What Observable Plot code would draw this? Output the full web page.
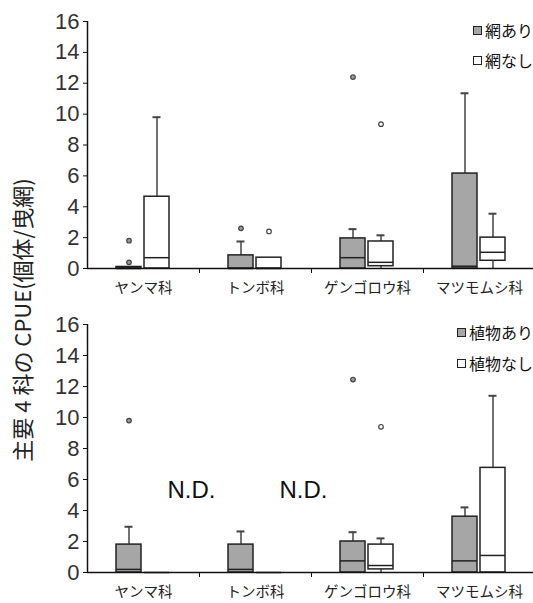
<!DOCTYPE html>
<html>
<head>
<meta charset="utf-8">
<script src="https://cdn.jsdelivr.net/npm/d3@7"></script>
<script src="https://cdn.jsdelivr.net/npm/@observablehq/plot@0.6"></script>
<style>
  body { margin: 0; background: #fff; }
  #wrap { position: relative; width: 533px; height: 603px; overflow: hidden; font-family: "Noto Sans CJK JP", sans-serif; }
  .panel { position: absolute; left: 0; }
  .leg { position: absolute; display: flex; align-items: center; font-size: 16px; line-height: 16px; color: #111; white-space: nowrap; }
  .sw { width: 9px; height: 9px; border: 1px solid #222; margin-right: 3px; box-sizing: border-box; }
  #ylab { position: absolute; left: 21px; top: 320px; transform: translate(-50%, -50%) rotate(-90deg); white-space: nowrap; font-size: 22px; color: #222; }
</style>
</head>
<body>
<div id="wrap">
  <div id="top" class="panel" style="top:0"></div>
  <div id="bottom" class="panel" style="top:300px"></div>
  <div id="ylab">主要 4 科の CPUE(個体/曳網)</div>
</div>
<script>
// Categories and tick labels
const categories = ["ヤンマ科", "トンボ科", "ゲンゴロウ科", "マツモムシ科"];
const yTicks = [0, 2, 4, 6, 8, 10, 12, 14, 16];

// Top panel: 網あり (gray) / 網なし (white)
const topGroups = ["網あり", "網なし"];
const netWithMin    = [0, 0, 0, 0];
const netWithQ1     = [0, 0, 0, 0];
const netWithMedian = [0, 0, 0.7, 0.15];
const netWithQ3     = [0.1, 0.85, 1.95, 6.15];
const netWithMax    = [0.1, 1.75, 2.55, 11.35];
const netWithOutliers = [["ヤンマ科", 1.8], ["ヤンマ科", 0.4], ["トンボ科", 2.6], ["ゲンゴロウ科", 12.4]];

const netWithoutMin    = [0, 0, 0, 0];
const netWithoutQ1     = [0, 0, 0.15, 0.5];
const netWithoutMedian = [0.7, 0, 0.4, 1.05];
const netWithoutQ3     = [4.65, 0.7, 1.75, 2.0];
const netWithoutMax    = [9.8, 0.7, 2.15, 3.55];
const netWithoutOutliers = [["トンボ科", 2.4], ["ゲンゴロウ科", 9.35]];

// Bottom panel: 植物あり (gray) / 植物なし (white)
const bottomGroups = ["植物あり", "植物なし"];
const plantWithMin    = [0, 0, 0, 0];
const plantWithQ1     = [0, 0, 0, 0];
const plantWithMedian = [0.2, 0.2, 0.75, 0.75];
const plantWithQ3     = [1.8, 1.8, 2.0, 3.6];
const plantWithMax    = [2.95, 2.65, 2.6, 4.2];
const plantWithOutliers = [["ヤンマ科", 9.8], ["ゲンゴロウ科", 12.45]];

const plantWithoutMin    = [0, 0, 0, 0];
const plantWithoutQ1     = [0, 0, 0.2, 0];
const plantWithoutMedian = [0, 0, 0.45, 1.1];
const plantWithoutQ3     = [0, 0, 1.8, 6.75];
const plantWithoutMax    = [0, 0, 2.2, 11.4];
const plantWithoutOutliers = [["ゲンゴロウ科", 9.4]];
const plantNoData = ["ヤンマ科", "トンボ科"];

const GRAY = "#a6a6a6";

function rows(min, q1, med, q3, max) {
  return categories.map((c, i) => ({cat: c, min: min[i], q1: q1[i], med: med[i], q3: q3[i], max: max[i]}));
}

// styling per side (left = gray, right = white)
const sides = [
  {fill: GRAY, dx: -14.5, boxL: 29, boxR: 58, capL: 37.5, capR: 66.5},
  {fill: "#fff", dx: 13.5, boxL: 57, boxR: 30, capL: 65.5, capR: 38.5}
];

function boxMarks(data, outliers, s) {
  return [
    Plot.ruleX(data.filter(d => d.max > d.q3), {x: "cat", y1: "q3", y2: "max", dx: s.dx, stroke: "#444", strokeWidth: 1.5}),
    Plot.ruleX(data.filter(d => d.q1 > d.min), {x: "cat", y1: "min", y2: "q1", dx: s.dx, stroke: "#444", strokeWidth: 1.5}),
    Plot.tickY(data.filter(d => d.max > d.q3), {x: "cat", y: "max", insetLeft: s.capL, insetRight: s.capR, stroke: "#444", strokeWidth: 2}),
    Plot.barY(data, {x: "cat", y1: "q1", y2: "q3", insetLeft: s.boxL, insetRight: s.boxR, fill: s.fill, stroke: "#222", strokeWidth: 1.5}),
    Plot.tickY(data, {x: "cat", y: "med", insetLeft: s.boxL, insetRight: s.boxR, stroke: "#222", strokeWidth: 1.5}),
    Plot.dot(outliers, {x: d => d[0], y: d => d[1], dx: s.dx, r: 2.3, fill: s.fill === "#fff" ? "#fff" : "#9a9a9a", stroke: "#444", strokeWidth: 1.2})
  ];
}

function panel(left, leftOut, right, rightOut, nd, height, mt, mb) {
  return Plot.plot({
    width: 533,
    height,
    marginLeft: 87,
    marginRight: 0,
    marginTop: mt,
    marginBottom: mb,
    style: {fontFamily: "Noto Sans CJK JP, sans-serif", background: "transparent", overflow: "visible"},
    x: {type: "band", domain: categories, range: [87, 535], padding: 0, axis: null},
    y: {domain: [0, 16], axis: null},
    marks: [
      Plot.ruleX([categories[0]], {x: d => d, dx: -56, y1: 0, y2: 16, stroke: "#111", strokeWidth: 1.5}),
      Plot.axisY({ticks: yTicks, tickSize: 4, tickPadding: 4, fontSize: 22, fontFamily: "Liberation Sans Narrow, Liberation Sans, sans-serif", fill: "#333", stroke: "#111", label: null}),
      Plot.axisX({ticks: categories.slice(0, 3), dx: 56, tickSize: 5, tickFormat: () => "", stroke: "#111", label: null}),
      Plot.axisX({tickSize: 0, tickPadding: 14, fontSize: 14.5, fill: "#222", label: null}),
      ...boxMarks(left, leftOut, sides[0]),
      ...boxMarks(right, rightOut, sides[1]),
      Plot.ruleY([0], {stroke: "#111", strokeWidth: 1.5}),
      Plot.text(nd, {x: d => d, text: () => "N.D.", frameAnchor: "bottom", dx: 48, dy: -75, fontSize: 24, fontFamily: "Liberation Sans, sans-serif", fill: "#111"})
    ]
  });
}

document.getElementById("top").append(panel(
  rows(netWithMin, netWithQ1, netWithMedian, netWithQ3, netWithMax), netWithOutliers,
  rows(netWithoutMin, netWithoutQ1, netWithoutMedian, netWithoutQ3, netWithoutMax), netWithoutOutliers,
  [], 300, 21, 32));
document.getElementById("bottom").append(panel(
  rows(plantWithMin, plantWithQ1, plantWithMedian, plantWithQ3, plantWithMax), plantWithOutliers,
  rows(plantWithoutMin, plantWithoutQ1, plantWithoutMedian, plantWithoutQ3, plantWithoutMax), plantWithoutOutliers,
  plantNoData, 303, 24, 31));

// Legends
const wrap = document.getElementById("wrap");
function legend(labels, left, tops) {
  labels.forEach((lab, i) => {
    const el = document.createElement("div");
    el.className = "leg";
    el.style.left = left + "px";
    el.style.top = (tops[i] - 8) + "px";
    const sw = document.createElement("span");
    sw.className = "sw";
    sw.style.background = i === 0 ? GRAY : "#fff";
    el.append(sw, document.createTextNode(lab));
    wrap.append(el);
  });
}
legend(topGroups, 473, [30, 60]);
legend(bottomGroups, 457, [332, 363]);
</script>
</body>
</html>
